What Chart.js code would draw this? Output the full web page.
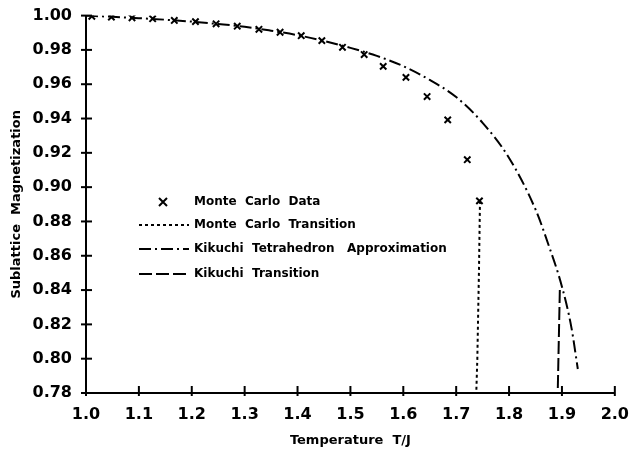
<!DOCTYPE html>
<html>
<head>
<meta charset="utf-8">
<script src="https://cdn.jsdelivr.net/npm/chart.js@4.4.1/dist/chart.umd.min.js"></script>
<style>
  html, body { margin: 0; padding: 0; background: #fff; }
  #wrap { width: 633px; height: 450px; }
</style>
</head>
<body>
<div id="wrap"><canvas id="magChart" width="633" height="450"></canvas></div>
<script>
// Monte Carlo points (x marks)
const mcTemp = [1.011, 1.048, 1.087, 1.126, 1.167, 1.207, 1.246, 1.286, 1.327, 1.367,
                1.407, 1.446, 1.485, 1.526, 1.562, 1.605, 1.645, 1.684, 1.721, 1.744];
const mcMag  = [0.9996, 0.9991, 0.9987, 0.9982, 0.9972, 0.9965, 0.9952, 0.9938, 0.9920, 0.9903,
                0.9883, 0.9854, 0.9815, 0.9773, 0.9704, 0.9640, 0.9528, 0.9392, 0.9160, 0.8920];

// Monte Carlo transition (dotted drop)
const mcTransTemp = [1.745, 1.743, 1.740, 1.738];
const mcTransMag  = [0.892, 0.850, 0.800, 0.780];

// Kikuchi tetrahedron approximation curve
const kikTemp = [1.00, 1.05, 1.10, 1.15, 1.20, 1.25, 1.30, 1.35, 1.40, 1.45, 1.50, 1.55,
                 1.60, 1.65, 1.70, 1.75, 1.80, 1.85, 1.875, 1.90, 1.918, 1.930];
const kikMag  = [1.000, 0.9993, 0.9985, 0.9976, 0.9965, 0.9951, 0.9935, 0.9912, 0.9886, 0.9852,
                 0.9812, 0.9765, 0.9705, 0.9625, 0.9525, 0.9375, 0.9170, 0.8870, 0.8660, 0.8420,
                 0.8180, 0.7940];

// Kikuchi transition (dashed drop)
const kikTransTemp = [1.896, 1.892];
const kikTransMag  = [0.840, 0.780];

// tick labels
const xTicks = [1.0, 1.1, 1.2, 1.3, 1.4, 1.5, 1.6, 1.7, 1.8, 1.9, 2.0];
const yTicks = [0.78, 0.80, 0.82, 0.84, 0.86, 0.88, 0.90, 0.92, 0.94, 0.96, 0.98, 1.00];

const pts = (xs, ys) => xs.map((x, i) => ({x: x, y: ys[i]}));

const legendItems = [
  {label: 'Monte  Carlo  Data', kind: 'mark'},
  {label: 'Monte  Carlo  Transition', kind: 'line', dash: [3, 3]},
  {label: 'Kikuchi  Tetrahedron   Approximation', kind: 'line', dash: [12, 4, 2, 4]},
  {label: 'Kikuchi  Transition', kind: 'line', dash: [13, 4]}
];

// crossing tick marks on both axes + legend drawn inside the plot
const axisDeco = {
  id: 'axisDeco',
  afterDraw(chart) {
    const c = chart.ctx;
    const xs = chart.scales.x, ys = chart.scales.y;
    const area = chart.chartArea;
    c.save();
    c.strokeStyle = '#000';
    c.lineWidth = 2;
    c.setLineDash([]);
    xTicks.forEach(v => {
      const px = xs.getPixelForValue(v);
      c.beginPath(); c.moveTo(px, area.bottom - 7); c.lineTo(px, area.bottom + 3); c.stroke();
    });
    yTicks.forEach(v => {
      const py = ys.getPixelForValue(v);
      c.beginPath(); c.moveTo(area.left - 5, py); c.lineTo(area.left + 6, py); c.stroke();
    });

    // legend
    const rowY = [202, 225, 249, 274];
    c.font = 'bold 12px "DejaVu Sans"';
    c.fillStyle = '#000';
    c.textBaseline = 'middle';
    legendItems.forEach((it, i) => {
      const y = rowY[i];
      if (it.kind === 'mark') {
        c.lineWidth = 2;
        c.beginPath();
        c.moveTo(159, y - 4); c.lineTo(167, y + 4);
        c.moveTo(167, y - 4); c.lineTo(159, y + 4);
        c.stroke();
      } else {
        c.lineWidth = 2;
        c.setLineDash(it.dash);
        c.beginPath(); c.moveTo(139, y); c.lineTo(189, y); c.stroke();
        c.setLineDash([]);
      }
      c.fillText(it.label, 194, y);
    });
    c.restore();
  }
};

const ctx = document.getElementById('magChart');
const magChart = new Chart(ctx, {
  type: 'line',
  data: {
    datasets: [
      {
        label: 'Monte Carlo Data',
        data: pts(mcTemp, mcMag),
        showLine: false,
        pointStyle: 'crossRot',
        pointRadius: 4.5,
        pointBorderWidth: 2,
        borderColor: '#000',
        backgroundColor: '#000'
      },
      {
        label: 'Monte Carlo Transition',
        data: pts(mcTransTemp, mcTransMag),
        borderColor: '#000',
        borderWidth: 2,
        borderDash: [3, 3],
        pointRadius: 0
      },
      {
        label: 'Kikuchi Tetrahedron Approximation',
        data: pts(kikTemp, kikMag),
        borderColor: '#000',
        borderWidth: 2,
        borderDash: [12, 4, 2, 4],
        cubicInterpolationMode: 'monotone',
        pointRadius: 0
      },
      {
        label: 'Kikuchi Transition',
        data: pts(kikTransTemp, kikTransMag),
        borderColor: '#000',
        borderWidth: 2,
        borderDash: [13, 4],
        pointRadius: 0
      }
    ]
  },
  options: {
    responsive: false,
    animation: false,
    layout: { padding: { left: 0, right: 17, top: 15, bottom: 0 } },
    plugins: {
      legend: { display: false },
      tooltip: { enabled: false }
    },
    scales: {
      x: {
        type: 'linear',
        min: 1.0,
        max: 2.0,
        afterFit: s => { s.height = 57; },
        afterBuildTicks: s => { s.ticks = xTicks.map(v => ({value: v})); },
        grid: { display: false },
        border: { display: true, color: '#000', width: 2 },
        ticks: {
          color: '#000',
          padding: 4,
          font: { family: 'DejaVu Sans', size: 16, weight: 'bold' },
          callback: v => v.toFixed(1)
        },
        title: {
          display: true,
          text: 'Temperature  T/J',
          color: '#000',
          font: { family: 'DejaVu Sans', size: 13, weight: 'bold' },
          padding: { top: 0, bottom: 2 }
        }
      },
      y: {
        type: 'linear',
        min: 0.78,
        max: 1.0,
        afterFit: s => { s.width = 86; },
        afterBuildTicks: s => { s.ticks = yTicks.map(v => ({value: v})); },
        grid: { display: false },
        border: { display: true, color: '#000', width: 2 },
        ticks: {
          color: '#000',
          padding: 6,
          font: { family: 'DejaVu Sans', size: 16, weight: 'bold' },
          callback: v => v.toFixed(2)
        },
        title: {
          display: true,
          text: 'Sublattice  Magnetization',
          color: '#000',
          font: { family: 'DejaVu Sans', size: 13, weight: 'bold' },
          padding: { top: 9, bottom: 0 }
        }
      }
    }
  },
  plugins: [axisDeco]
});
</script>
</body>
</html>
